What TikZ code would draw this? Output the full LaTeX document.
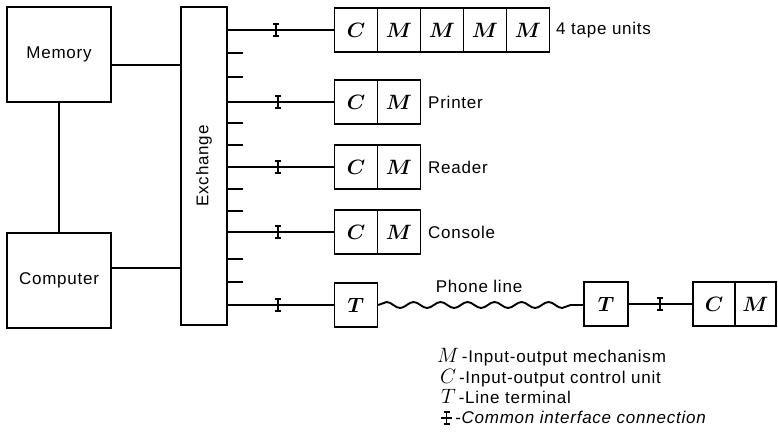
\documentclass[tikz,border=0pt]{standalone}
\usepackage{bm}
\usepackage{fontspec}
\setmainfont[LetterSpace=4.5]{Liberation Sans}
\usetikzlibrary{decorations.pathmorphing}
\begin{document}
\begin{tikzpicture}[x=1pt,y=-1pt,
  cell/.style={draw, line width=1.3pt, minimum width=43pt, minimum height=44pt, inner sep=0pt, font=\fontsize{20}{24}\selectfont},
  unit/.style={draw, line width=1.3pt, inner sep=0pt, font=\fontsize{17}{20}\selectfont},
  wire/.style={line width=1.9pt},
  lbl/.style={font=\fontsize{17}{20}\selectfont, anchor=west, inner sep=0pt},
  legend/.style={anchor=base west, inner sep=0pt, font=\fontsize{17}{20}\selectfont},
  iface/.pic={\draw[line width=1.2pt] (0,-6)--(0,6) (-3,-6)--(3,-6) (-3,6)--(3,6);}
]
\useasboundingbox (0,0) rectangle (778,436);

% main units
\node[unit, minimum width=104pt, minimum height=95pt] (mem) at (59,54.5) {Memory};
\node[unit, minimum width=104pt, minimum height=95pt] (comp) at (59,280.5) {Computer};
\node[unit, minimum width=46pt, minimum height=318pt] (exch) at (204,166) {\rotatebox{90}{Exchange}};

\draw[wire] (mem) -- (comp);
\draw[wire] ([yshift=-10.5pt]mem.east) -- ([yshift=-10.5pt]mem.east -| exch.west);
\draw[wire] ([yshift=12.5pt]comp.east) -- ([yshift=12.5pt]comp.east -| exch.west);

% tape units
\node[cell] (c1) at (356,30) {$\bm{C}$};
\node[cell] (m1a) at (399,30) {$\bm{M}$};
\node[cell] (m1b) at (442,30) {$\bm{M}$};
\node[cell] (m1c) at (485,30) {$\bm{M}$};
\node[cell] (m1d) at (528,30) {$\bm{M}$};
\node[lbl] (tape) at (556,30) {4 tape units};

% printer
\node[cell] (c2) at (356,102) {$\bm{C}$};
\node[cell] (m2) at (399,102) {$\bm{M}$};
\node[lbl] (printer) at (428,102) {Printer};

% reader
\node[cell] (c3) at (356,167) {$\bm{C}$};
\node[cell] (m3) at (399,167) {$\bm{M}$};
\node[lbl] (reader) at (428,167) {Reader};

% console
\node[cell] (c4) at (356,232) {$\bm{C}$};
\node[cell] (m4) at (399,232) {$\bm{M}$};
\node[lbl] (console) at (428,232) {Console};

% phone line
\node[cell] (t1) at (356,305) {$\bm{T}$};
\node[cell, minimum width=44pt] (t2) at (606,304) {$\bm{T}$};
\node[cell, minimum width=42pt] (c6) at (714,304) {$\bm{C}$};
\node[cell, minimum width=41pt] (m6) at (755.5,304) {$\bm{M}$};
\node[lbl, anchor=center] (phone) at (479,286) {Phone line};

% connections from exchange
\draw[wire] (exch.east |- c1.west) -- (c1.west);
\draw[wire] (exch.east |- c2.west) -- (c2.west);
\draw[wire] (exch.east |- c3.west) -- (c3.west);
\draw[wire] (exch.east |- c4.west) -- (c4.west);
\draw[wire] (exch.east |- t1.west) -- (t1.west);
\pic at (276,30) {iface};
\pic at (278,102) {iface};
\pic at (278,167) {iface};
\pic at (278,232) {iface};
\pic at (278,305) {iface};

\foreach \yy in {53,77,123,145,189,211,259,282}
  \draw[wire] (exch.east |- 0,\yy) -- ++(15,0);

\draw[wire, decorate, decoration={snake, segment length=27pt, amplitude=3pt}] (t1.east) -- (t1.east -| t2.west);
\draw[wire] (t2.east) -- (c6.west);
\pic at (660,304) {iface};

% legend
\node[legend] (lm) at (437,362) {{\fontsize{20}{24}\selectfont$M$}\,-Input-output mechanism};
\node[legend] (lc) at (440,383) {{\fontsize{20}{24}\selectfont$C$}\,-Input-output control unit};
\node[legend] (lt) at (441,403) {{\fontsize{20}{24}\selectfont$T$}\,-Line terminal};
\draw[line width=1.1pt] (441,418) -- (452,418);
\pic at (446.5,418) {iface};
\node[legend] (li) at (455,423) {\itshape -Common interface connection};
\end{tikzpicture}
\end{document}
